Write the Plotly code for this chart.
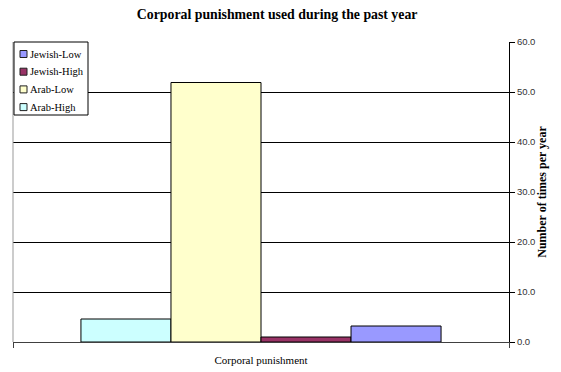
import plotly.graph_objects as go

# Data: mean number of times per year, one category
category = ["Corporal punishment"]
groups = ["Arab-High", "Arab-Low", "Jewish-High", "Jewish-Low"]
values = [4.6, 51.9, 1.0, 3.2]
colors = ["#CCFFFF", "#FFFFCC", "#993366", "#9999FF"]
y_ticks = [0, 10, 20, 30, 40, 50, 60]
y_tick_labels = ["0.0", "10.0", "20.0", "30.0", "40.0", "50.0", "60.0"]

SERIF = "Liberation Serif, Times New Roman, serif"
SANS = "Liberation Sans, Arial, sans-serif"

W, H = 561, 372
M_L, M_R, M_T, M_B = 13, 52, 42, 30
PW, PH = W - M_L - M_R, H - M_T - M_B


def px_x(px):
    """Pixel column -> paper x (relative to the plotting area)."""
    return (px - M_L) / PW


def px_y(py):
    """Pixel row -> paper y (relative to the plotting area)."""
    return (H - M_B - py) / PH


fig = go.Figure()
for name, val, col in zip(groups, values, colors):
    fig.add_trace(go.Bar(
        x=category, y=[val], name=name,
        marker=dict(color=col, line=dict(color="#000000", width=1)),
    ))

fig.update_layout(
    width=W, height=H,
    margin=dict(l=M_L, r=M_R, t=M_T, b=M_B),
    paper_bgcolor="white", plot_bgcolor="white",
    barmode="group", bargap=0.274, bargroupgap=0,
    title=dict(
        text="<b>Corporal punishment used during the past year</b>",
        font=dict(family=SERIF, size=13.8, color="black"),
        x=0.494, xanchor="center", y=1 - 14 / H, yanchor="middle",
    ),
    showlegend=False,
)

fig.update_xaxes(
    showline=True, linecolor="#404040", linewidth=1,
    ticks="outside", tickson="boundaries", ticklen=5, tickcolor="#404040",
    tickfont=dict(family=SERIF, size=11, color="black"),
    ticklabelstandoff=8, automargin=False,
    showgrid=False,
)

fig.update_yaxes(
    side="right", range=[0, 60],
    tickvals=y_ticks, ticktext=y_tick_labels,
    tickfont=dict(family=SANS, size=9.5, color="#333333"),
    ticks="outside", ticklen=5, tickcolor="black",
    showline=True, linecolor="black", linewidth=1,
    showgrid=True, gridcolor="black", gridwidth=1,
    zeroline=False, automargin=False,
    title=dict(text="<b>Number of times per year</b>",
               font=dict(family=SERIF, size=12, color="black"), standoff=0),
)

# Left border of the plotting area
fig.add_shape(type="line", xref="paper", yref="paper",
              x0=0, x1=0, y0=0, y1=1, line=dict(color="#999999", width=1))

# Boxed legend in the top-left corner, series listed in reverse order
box_l, box_r, box_t, box_b = 14, 88, 42, 115
fig.add_shape(type="rect", xref="paper", yref="paper",
              x0=px_x(box_l), x1=px_x(box_r), y0=px_y(box_b), y1=px_y(box_t),
              line=dict(color="black", width=1), fillcolor="white", layer="above")
row_gap = 17.7
for i, (name, col) in enumerate(zip(groups[::-1], colors[::-1])):
    cy = box_t + 12 + i * row_gap
    fig.add_shape(type="rect", xref="paper", yref="paper",
                  x0=px_x(20), x1=px_x(27), y0=px_y(cy + 3.5), y1=px_y(cy - 3.5),
                  line=dict(color="#202020", width=1), fillcolor=col, layer="above")
    fig.add_annotation(x=px_x(29), y=px_y(cy), xref="paper", yref="paper",
                       text=name, showarrow=False, xanchor="left", yanchor="middle",
                       borderpad=0,
                       font=dict(family=SERIF, size=10.5, color="black"))

fig.write_html("out.html")
